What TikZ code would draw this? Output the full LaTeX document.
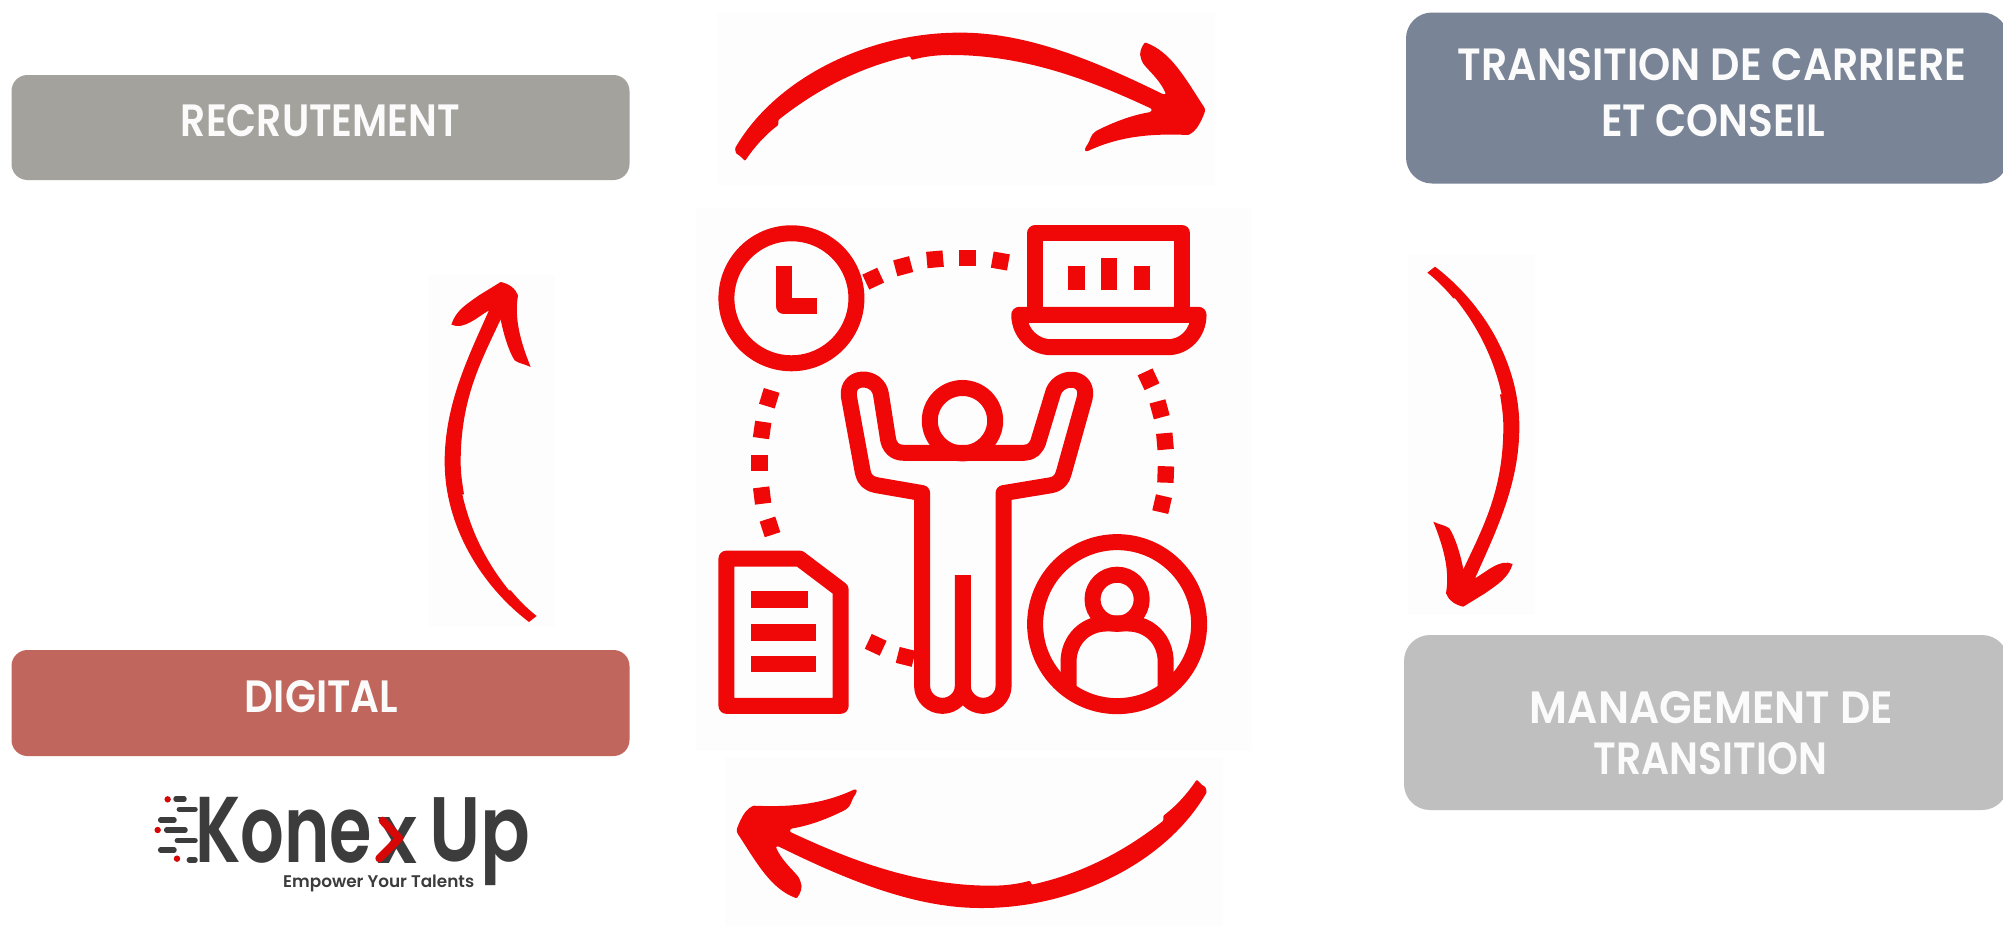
\documentclass[tikz,border=0pt]{standalone}
\usepackage{fontspec}
\setmainfont{Poppins}
\newfontfamily\labfont{Poppins SemiBold}
\newfontfamily\logofont{Poppins SemiBold}
\definecolor{iconred}{HTML}{F00808}
\definecolor{patch}{HTML}{FDFDFD}
\definecolor{recbox}{HTML}{A4A29C}
\definecolor{carbox}{HTML}{798497}
\definecolor{mgtbox}{HTML}{BFBFBF}
\definecolor{digbox}{HTML}{C0665C}
\definecolor{logodark}{HTML}{3C3C3C}
\definecolor{labwhite}{HTML}{FBFBFB}
\newcommand{\lab}[3]{\resizebox{#1pt}{#2pt}{\labfont #3}}
\newcommand{\logot}[3]{\resizebox*{#1pt}{#2pt}{\logofont #3}}
\newcommand{\wideArrow}{(75,415) .. controls (200,200) and (480,68) .. (750,68)
    .. controls (950,68) and (1150,150) .. (1360,253) -- (1368,252)
    .. controls (1345,200) and (1300,170) .. (1295,150)
    .. controls (1285,130) and (1295,110) .. (1305,97)
    .. controls (1380,125) and (1420,195) .. (1478,285)
    .. controls (1490,300) and (1483,310) .. (1478,322)
    .. controls (1465,350) and (1455,365) .. (1435,375)
    .. controls (1320,370) and (1230,380) .. (1140,420)
    .. controls (1130,425) and (1122,425) .. (1127,412)
    .. controls (1145,385) and (1140,375) .. (1160,362)
    .. controls (1220,332) and (1270,315) .. (1322,306)
    -- (1326,298) -- (1322,295)
    .. controls (1150,215) and (950,135) .. (720,135)
    .. controls (680,135) and (640,140) .. (605,150) -- (600,138)
    .. controls (430,175) and (300,255) .. (205,330) -- (205,345)
    .. controls (165,375) and (130,415) .. (105,453) -- (90,438) -- (78,430) -- cycle}
\newcommand{\tallArrow}{(82,68) -- (105,50) .. controls (250,160) and (358,340) .. (358,530)
    .. controls (358,700) and (290,840) .. (225,985)
    .. controls (260,965) and (300,925) .. (338,942)
    .. controls (325,985) and (290,1005) .. (255,1030) -- (190,1070)
    .. controls (165,1065) and (145,1050) .. (138,1030)
    .. controls (150,960) and (130,890) .. (100,815)
    .. controls (120,825) and (135,825) .. (148,835)
    .. controls (165,860) and (182,915) .. (190,958)
    .. controls (250,830) and (310,720) .. (310,530)
    .. controls (310,495) and (305,465) .. (300,433) -- (305,433)
    .. controls (280,320) and (230,225) .. (165,145) -- (160,145)
    .. controls (135,115) and (110,90) .. (82,68) -- cycle}
\tikzset{
  catbox/.style={rectangle,inner sep=0pt,rounded corners=16pt},
  cattext/.style={inner sep=0pt,text=labwhite},
  logotext/.style={inner sep=0pt,text=logodark,anchor=north west},
  ico/.style={draw=iconred,line width=16pt,line join=round},
  bar/.style={fill=iconred},
  stripe/.style={draw=logodark,line width=5.5pt,line cap=round},
}
\begin{document}
\begin{tikzpicture}[x=1pt,y=-1pt]
\useasboundingbox (0,0) rectangle (2003,926);
\clip (0,0) rectangle (2003,926);
\fill[white] (0,0) rectangle (2003,926);
% faint image patches
\fill[patch] (696,208) rectangle (1252,751);
\fill[patch] (717,12) rectangle (1215,185);
\fill[patch] (725,757) rectangle (1223,926);
\fill[patch] (1408,255) rectangle (1535,615);
\fill[patch] (428,275) rectangle (555,627);
% boxes
\node[catbox,fill=recbox,minimum width=618pt,minimum height=105pt] (rec) at (320.5,127.5) {};
\node[catbox,fill=digbox,minimum width=618pt,minimum height=106pt] (dig) at (320.5,703) {};
\node[catbox,fill=carbox,rounded corners=26pt,minimum width=602pt,minimum height=171pt] (car) at (1707,98) {};
\node[catbox,fill=mgtbox,rounded corners=26pt,minimum width=604pt,minimum height=175pt] (mgt) at (1706,722.5) {};
% labels
\node[cattext] (trec) at (320.5,120.5) {\lab{279}{32}{RECRUTEMENT}};
\node[cattext] (tdig) at (321.5,696.5) {\lab{153}{32}{DIGITAL}};
\node[cattext] (tcar1) at (1712,64.5) {\lab{508}{32}{TRANSITION DE CARRIERE}};
\node[cattext] (tcar2) at (1713,120.5) {\lab{224}{32}{ET CONSEIL}};
\node[cattext] (tmgt1) at (1711.5,707.5) {\lab{363}{32}{MANAGEMENT DE}};
\node[cattext] (tmgt2) at (1710.5,759) {\lab{233}{32}{TRANSITION}};
% central icon
\begin{scope}[shift={(680,200)},x=1pt/2.8,y=-1pt/2.9]
  % clock
  \draw[ico] (312,285) circle[radius=65pt];
  \draw[ico,line join=round] (290,190) -- (290,308) -- (383,308);
  % laptop
  \draw[ico] (995,333) -- (995,96) -- (1406,96) -- (1406,333);
  \draw[ico] (950,333) -- (1452,333) .. controls (1452,385) and (1415,427) .. (1365,427)
     -- (1040,427) .. controls (990,427) and (950,385) .. (950,333) -- cycle;
  \fill[bar] (1087,190) rectangle (1133,262);
  \fill[bar] (1178,167) rectangle (1225,262);
  \fill[bar] (1270,190) rectangle (1316,262);
  % document
  \draw[ico] (130,1040) -- (335,1040) -- (450,1130) -- (450,1467) -- (130,1467) -- cycle;
  \fill[bar] (200,1135) rectangle (358,1182);
  \fill[bar] (200,1230) rectangle (382,1278);
  \fill[bar] (200,1323) rectangle (382,1370);
  % user badge
  \draw[ico] (1224,1230) circle[radius=82pt];
  \draw[ico] (1224,1158) circle[radius=24.6pt];
  \draw[ico] (1088,1412) -- (1088,1340) .. controls (1088,1275) and (1135,1228) .. (1195,1228)
     -- (1253,1228) .. controls (1315,1228) and (1360,1275) .. (1360,1340) -- (1360,1412);
  % person
  \draw[ico] (791,640) circle[radius=32.7pt];
  \draw[ico] (792,733) -- (625,733) .. controls (600,733) and (585,715) .. (582,690)
     -- (563,565) .. controls (555,505) and (465,505) .. (473,570)
     -- (512,790) .. controls (515,810) and (530,824) .. (550,827)
     -- (678,850) -- (678,1410) .. controls (678,1441) and (704,1467) .. (735,1467)
     .. controls (766,1467) and (792,1441) .. (792,1410) -- (792,1088);
  \draw[ico] (792,1410) .. controls (792,1441) and (818,1467) .. (849,1467)
     .. controls (880,1467) and (906,1441) .. (906,1410)
     -- (906,850) -- (1040,827) .. controls (1058,824) and (1071,810) .. (1075,790)
     -- (1133,575) .. controls (1148,505) and (1055,505) .. (1043,565)
     -- (1005,695) .. controls (1000,718) and (985,733) .. (965,733) -- (792,733);
  % dots of the ring
  \foreach \px/\py/\pr in {541/228/25,625/192/15,714/172/5,805/168/0,897/177/-10,
      250/575/-17,230/667/-8,223/762/0,230/857/7,252/948/18,
      1312/520/25,1343/607/15,1358/700/5,1360/796/-2,1350/882/-13,
      548/1290/-25,632/1325/-14}
    \fill[iconred,shift={(\px,\py)},rotate=\pr] (-8.2pt,-8.2pt) rectangle (8.2pt,8.2pt);
\end{scope}
% top arrow
\begin{scope}[shift={(710,10)},x=1pt/3,y=-1pt/3]
  \fill[iconred,rounded corners=1pt] \wideArrow;
\end{scope}
% bottom arrow: the same stroke turned half way round
\begin{scope}[shift={(1231.67,930.67)},x=-1pt/3,y=1pt/3]
  \fill[iconred,rounded corners=1pt] \wideArrow;
\end{scope}
% right arrow
\begin{scope}[shift={(1400,250)},x=1pt/3,y=-1pt/3]
  \fill[iconred] \tallArrow;
\end{scope}
% left arrow: the same stroke turned half way round
\begin{scope}[shift={(564,638.67)},x=-1pt/3,y=1pt/3]
  \fill[iconred] \tallArrow;
\end{scope}
% logo
\node[logotext] (lkone) at (195,797) {\logot{177}{66}{Kone}};
\node[logotext] (lx) at (377,817) {\logot{40}{46}{x}};
\node[logotext] (lup) at (429,797) {\logot{101}{88}{Up}};
\node[inner sep=0pt,text=logodark,anchor=north west] (ltag) at (283,875) {\resizebox{191pt}{!}{\logofont Empower Your Talents}};
\begin{scope}[shift={(120,770)},x=1pt/3,y=-1pt/3]
  \draw[draw=iconred!90!black,line width=8pt,line cap=round,line join=round] (788,152) -- (838,205) -- (778,265);
  \foreach \ax/\ay/\bx/\by in {168/87/192/87,178/118/225/118,122/150/162/150,140/180/195/180,172/212/225/212,122/240/162/240,208/270/225/270}
    \draw[stripe] (\ax,\ay) -- (\bx,\by);
  \fill[iconred!90!black] (143,88) circle[radius=3.2pt];
  \fill[iconred!90!black] (113,180) circle[radius=3.2pt];
  \fill[iconred!90!black] (171,266) circle[radius=3.2pt];
\end{scope}
\end{tikzpicture}
\end{document}
